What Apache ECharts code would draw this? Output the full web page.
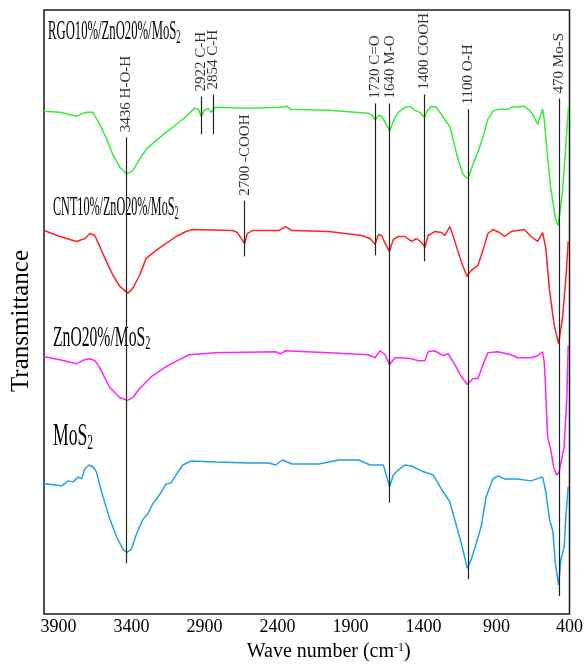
<!DOCTYPE html>
<html>
<head>
<meta charset="utf-8">
<title>FTIR spectra</title>
<script src="https://cdn.jsdelivr.net/npm/echarts@6.0.0/dist/echarts.min.js"></script>
<style>
  body { margin: 0; background: #fff; }
  #main { width: 586px; height: 667px; }
</style>
</head>
<body>
<div id="main"></div>
<script>
// [wave number (cm-1), transmittance (arb. units, curves stacked)]
var rgo = [[4000,506],[3891,505],[3775,501],[3734,504],[3700,505],[3666,505],[3618,493],[3570,478],[3530,463],[3482,450],[3434,443],[3393,446],[3345,458],[3298,468],[3230,477],[3161,485],[3093,493],[3025,501],[2970,509],[2943,508],[2923,501],[2902,507],[2875,509],[2855,505],[2827,510],[2595,509],[2391,510],[2336,511],[2309,508],[2050,507],[1777,504],[1750,502],[1732,497],[1709,502],[1687,501],[1659,494],[1632,486],[1607,496],[1573,505],[1527,510],[1493,511],[1459,507],[1425,505],[1395,500],[1368,508],[1346,511],[1312,510],[1278,503],[1243,495],[1220,491],[1198,478],[1164,458],[1130,443],[1107,439],[1091,440],[1061,453],[1027,465],[993,480],[959,498],[925,506],[891,508],[823,508],[800,510],[709,511],[675,507],[652,503],[618,493],[596,503],[584,508],[573,498],[555,468],[528,428],[496,398],[477,391],[448,425],[427,468],[407,510]];
var cnt = [[4000,386],[3891,380],[3777,375],[3720,378],[3686,383],[3652,381],[3618,370],[3573,355],[3528,341],[3482,330],[3425,323],[3391,328],[3345,341],[3300,358],[3232,366],[3163,373],[3095,380],[3027,385],[2982,387],[2709,386],[2675,384],[2641,376],[2625,373],[2607,383],[2573,386],[2391,386],[2345,390],[2300,386],[2050,385],[1823,381],[1766,378],[1732,372],[1709,382],[1687,381],[1663,373],[1634,365],[1607,377],[1573,380],[1527,380],[1482,375],[1448,378],[1414,374],[1391,369],[1368,381],[1323,385],[1278,384],[1255,381],[1220,390],[1198,381],[1164,365],[1130,350],[1102,340],[1073,346],[1027,351],[993,366],[959,383],[925,387],[879,384],[845,380],[800,385],[709,387],[664,380],[618,375],[584,384],[562,368],[539,328],[505,291],[475,272],[448,298],[425,338],[409,375]];
var zno = [[4000,259],[3891,256],[3777,252],[3720,256],[3686,257],[3652,255],[3618,248],[3550,228],[3482,218],[3429,215],[3391,218],[3345,227],[3255,240],[3163,249],[3073,256],[3005,261],[2823,263],[2413,264],[2379,262],[2345,265],[2050,263],[1777,261],[1732,258],[1698,265],[1663,261],[1634,251],[1595,258],[1550,258],[1482,257],[1436,255],[1391,255],[1368,264],[1323,265],[1266,260],[1232,262],[1186,251],[1141,239],[1100,231],[1061,237],[1027,237],[993,251],[959,263],[891,264],[800,261],[755,258],[664,258],[618,260],[584,264],[573,253],[566,235],[550,178],[528,165],[509,148],[487,140],[471,143],[437,168],[418,218],[409,270]];
var mos2 = [[4000,131],[3937,130],[3879,129],[3834,134],[3800,133],[3766,138],[3743,136],[3720,146],[3691,150],[3664,148],[3641,143],[3596,118],[3550,96],[3504,78],[3459,65],[3432,62],[3402,65],[3368,80],[3323,95],[3289,101],[3255,111],[3209,120],[3163,131],[3129,132],[3095,140],[3050,150],[2993,154],[2823,153],[2595,152],[2459,152],[2413,150],[2368,155],[2300,151],[2118,151],[1982,155],[1845,155],[1766,150],[1675,150],[1652,138],[1632,128],[1607,140],[1573,145],[1527,150],[1482,149],[1414,144],[1334,140],[1278,126],[1220,113],[1186,95],[1141,71],[1100,46],[1073,55],[1039,71],[1005,88],[971,118],[925,136],[891,139],[845,136],[755,136],[664,134],[584,138],[562,123],[538,96],[514,83],[497,52],[475,29],[459,55],[436,68],[425,98],[409,128]];

// band assignments
var peakWave = [3436, 2925, 2843, 2625, 1732, 1632, 1395, 1095, 470];
var peakText = ['3436 H-O-H', '2922 C-H', '2854 C-H', '2700 -COOH', '1720 C=O', '1640 M-O', '1400 COOH', '1100 O-H', '470 Mo-S'];
var peakTop = [480, 521, 523, 416, 514, 514, 523, 508, 519];
var peakBottom = [51, 483, 483, 360, 361, 112, 355, 35, 18];

var xMin = 400, xMax = 4000, xStep = 500;
var serif = '"Liberation Serif", "Times New Roman", serif';

var peakLines = [];
var peakLabels = [];
peakWave.forEach(function (w, i) {
  peakLines.push([{ coord: [w, peakBottom[i]] }, { coord: [w, peakTop[i]] }]);
  peakLabels.push({ value: [w, peakTop[i]], name: peakText[i] });
});

function nameLabel(main, x, y, size, sx) {
  return {
    type: 'text', x: x, y: y, scaleX: sx, silent: true,
    style: {
      text: '{m|' + main + '}{s|2}',
      verticalAlign: 'top',
      fill: '#000',
      rich: {
        m: { fontFamily: serif, fontSize: size, lineHeight: size + 3, fill: '#000' },
        s: { fontFamily: serif, fontSize: Math.round(size * 0.65), lineHeight: 14, verticalAlign: 'bottom', fill: '#000' }
      }
    }
  };
}

var myChart = echarts.init(document.getElementById('main'));
myChart.setOption({
  animation: false,
  backgroundColor: '#fff',
  grid: { left: 44, right: 14, top: 10, bottom: 49, show: true, borderColor: '#1a1a1a', borderWidth: 1.5 },
  xAxis: {
    type: 'value', inverse: true, min: xMin, max: xMax, interval: xStep,
    name: '{a|Wave number (cm}{b|-1}{a|)}',
    nameLocation: 'middle', nameGap: 28,
    nameTextStyle: {
      padding: [0, 0, 0, 44],
      rich: {
        a: { fontFamily: serif, fontSize: 20, color: '#000' },
        b: { fontFamily: serif, fontSize: 12, color: '#000', verticalAlign: 'top', lineHeight: 12 }
      }
    },
    axisLine: { show: false }, axisTick: { show: false }, splitLine: { show: false },
    axisLabel: {
      margin: 4, color: '#000', fontFamily: serif, fontSize: 18, showMaxLabel: false,
      formatter: function (v) { return v === xMax ? '' : String(v); }
    }
  },
  yAxis: {
    type: 'value', min: 0, max: 608,
    name: 'Transmittance', nameLocation: 'middle', nameGap: 10,
    nameTextStyle: { fontFamily: serif, fontSize: 25, color: '#000', padding: [0, 18, 0, 0] },
    axisLine: { show: false }, axisTick: { show: false }, axisLabel: { show: false }, splitLine: { show: false }
  },
  series: [
    { name: 'RGO10%/ZnO20%/MoS2', type: 'line', data: rgo, showSymbol: false, lineStyle: { color: '#33ee33', width: 1.5 } },
    { name: 'CNT10%/ZnO20%/MoS2', type: 'line', data: cnt, showSymbol: false, lineStyle: { color: '#ff2222', width: 1.5 } },
    { name: 'ZnO20%/MoS2', type: 'line', data: zno, showSymbol: false, lineStyle: { color: '#ff22ff', width: 1.5 } },
    { name: 'MoS2', type: 'line', data: mos2, showSymbol: false, lineStyle: { color: '#1fa3e3', width: 1.5 } },
    {
      name: 'bands', type: 'scatter', data: peakLabels, symbolSize: 0, silent: true,
      label: {
        show: true, position: 'top', distance: 5, rotate: 90, align: 'left', verticalAlign: 'middle',
        formatter: '{b}', fontFamily: serif, fontSize: 15, color: '#000'
      },
      markLine: {
        silent: true, symbol: ['none', 'none'], label: { show: false },
        lineStyle: { color: '#222', width: 1.2, type: 'solid' },
        data: peakLines
      }
    }
  ],
  graphic: [
    nameLabel('RGO10%/ZnO20%/MoS', 48, 17, 27, 0.47),
    nameLabel('CNT10%/ZnO20%/MoS', 53, 193, 27, 0.45),
    nameLabel('ZnO20%/MoS', 53, 322, 29, 0.54),
    nameLabel('MoS', 53, 420, 31, 0.57)
  ]
});
</script>
</body>
</html>
